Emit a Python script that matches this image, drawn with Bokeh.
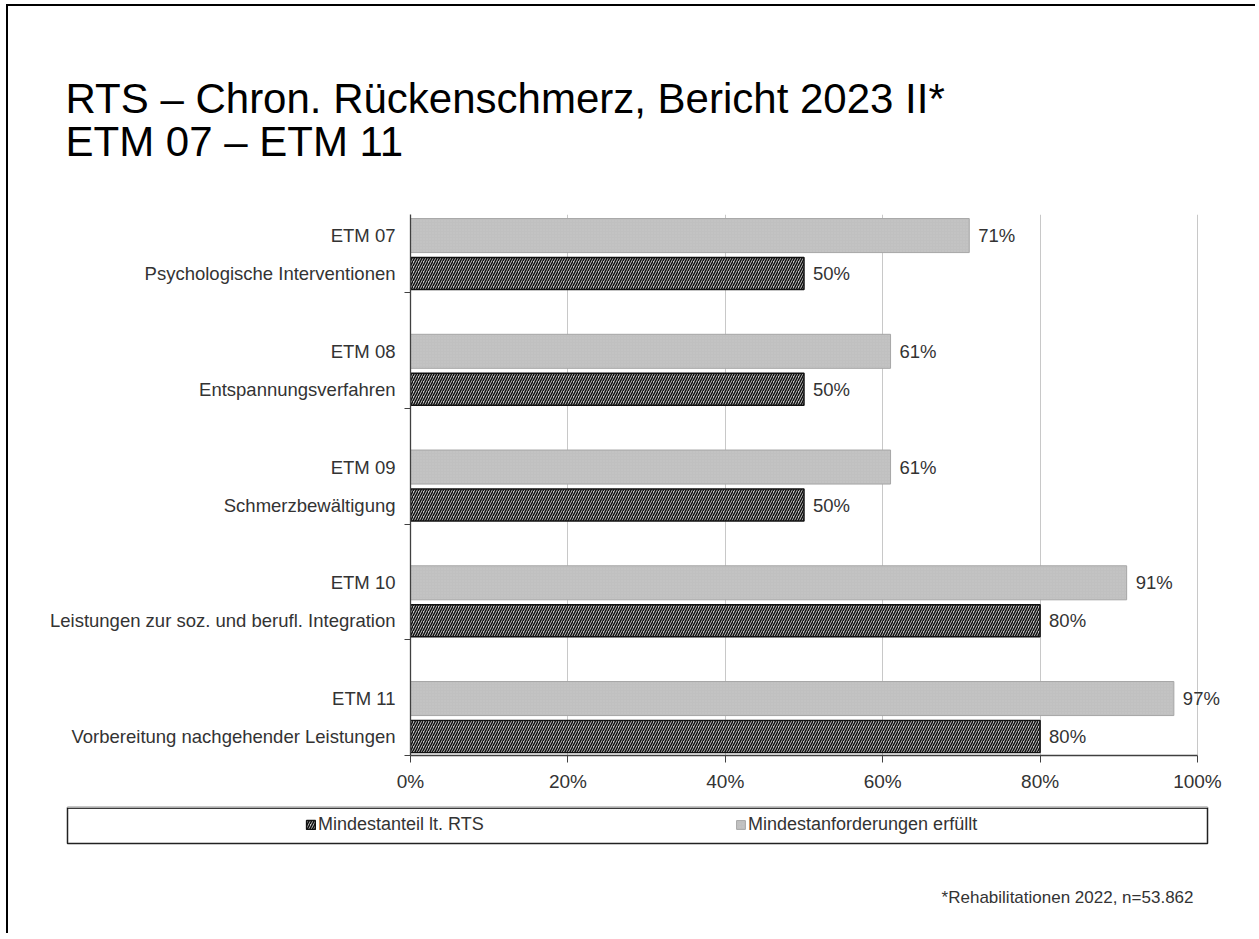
from bokeh.plotting import figure
from bokeh.layouts import column
from bokeh.models import (Range1d, FixedTicker, PrintfTickFormatter, Legend, LegendItem,
                          Title, Label, LabelSet, ColumnDataSource)
from bokeh.core.properties import value
from bokeh.embed import file_html
from bokeh.resources import INLINE

# ---------------- data ----------------
title_line1 = "RTS – Chron. Rückenschmerz, Bericht 2023 II*"
title_line2 = "ETM 07 – ETM 11"
etm_codes = ["ETM 07", "ETM 08", "ETM 09", "ETM 10", "ETM 11"]
etm_names = ["Psychologische Interventionen", "Entspannungsverfahren", "Schmerzbewältigung",
             "Leistungen zur soz. und berufl. Integration", "Vorbereitung nachgehender Leistungen"]
mindestanteil = [50, 50, 50, 80, 80]          # Mindestanteil lt. RTS (hatched)
erfuellt = [71, 61, 61, 91, 97]               # Mindestanforderungen erfüllt (grey)
x_ticks = [0, 20, 40, 60, 80, 100]
legend_labels = ["Mindestanteil lt. RTS", "Mindestanforderungen erfüllt"]
footnote = "*Rehabilitationen 2022, n=53.862"

FONT = "Liberation Sans"
TXT = "#333333"
W = 1247   # page content is offset by 8px left / 6px top (slide frame)

GREY_STYLE = dict(fill_color="#c0c0c0", line_color="#a6a6a6", line_width=1,
                  hatch_pattern="dot", hatch_color="#d4d4d4", hatch_scale=3, hatch_weight=1,
                  hatch_alpha=0.4)
HATCH_STYLE = dict(fill_color="#c8c8c8", line_color="#111111", line_width=1.5,
                   hatch_pattern="/", hatch_color="#111111", hatch_scale=5, hatch_weight=1.5)

n = len(etm_codes)
group = [n - 1 - i for i in range(n)]
y_grey = [round(g + 0.492, 3) for g in group]
y_hatch = [round(g + 0.164, 3) for g in group]

src_g = ColumnDataSource(dict(y=y_grey, right=erfuellt, label=[f"{v}%" for v in erfuellt]))
src_h = ColumnDataSource(dict(y=y_hatch, right=mindestanteil, label=[f"{v}%" for v in mindestanteil]))

# ---------------- main chart ----------------
p = figure(width=W, height=799, x_range=Range1d(0, 104.45), y_range=Range1d(0, 4.674),
           output_backend="svg", toolbar_location=None, frame_align=False,
           min_border_left=402, min_border_right=23, min_border_top=208, min_border_bottom=50,
           title=title_line1)
p.outline_line_color = None
p.background_fill_color = "white"
p.border_fill_color = "white"

# titles: p.title is outermost; spacer nearest to the frame, then line 2
p.title.text_font = FONT
p.title.text_font_size = "42px"
p.title.text_font_style = "normal"
p.title.text_color = "#000000"
p.title.align = "left"
p.title.offset = -345
p.title.standoff = -12
p.add_layout(Title(text="\u00a0", text_font=FONT, text_font_size="42px", standoff=1,
                   align="left", offset=-345), "above")
p.add_layout(Title(text=title_line2, text_font=FONT, text_font_size="42px", text_font_style="normal",
                   text_color="#000000", align="left", offset=-345, standoff=0), "above")

# grid
p.ygrid.visible = False
p.xgrid.grid_line_color = "#c8c8c8"
p.xgrid.grid_line_width = 1
p.xgrid.bounds = (0, 100)

# x axis
p.xaxis.ticker = FixedTicker(ticks=x_ticks)
p.xaxis.bounds = (0, 100)
p.xaxis.formatter = PrintfTickFormatter(format="%d%%")
p.xaxis.axis_line_color = "#404040"
p.xaxis.axis_line_width = 1.3
p.xaxis.major_tick_line_color = "#404040"
p.xaxis.major_tick_out = 7
p.xaxis.major_tick_in = 0
p.xaxis.minor_tick_line_color = None
p.xaxis.major_label_text_font = FONT
p.xaxis.major_label_text_font_size = "19px"
p.xaxis.major_label_text_color = TXT
p.xaxis.major_label_standoff = 8

# y axis
p.yaxis.ticker = FixedTicker(ticks=sorted(y_grey + y_hatch), minor_ticks=list(range(n)))
overrides = {}
for yg, yh, code, name in zip(y_grey, y_hatch, etm_codes, etm_names):
    overrides[yg] = code
    overrides[yh] = name
p.yaxis.major_label_overrides = overrides
p.yaxis.axis_line_color = "#404040"
p.yaxis.axis_line_width = 1.3
p.yaxis.major_tick_line_color = None
p.yaxis.major_tick_out = 0
p.yaxis.major_tick_in = 0
p.yaxis.minor_tick_line_color = "#404040"
p.yaxis.minor_tick_out = 6
p.yaxis.minor_tick_in = 0
p.yaxis.major_label_text_font = FONT
p.yaxis.major_label_text_font_size = "18.5px"
p.yaxis.major_label_text_color = TXT
p.yaxis.major_label_standoff = 9

# bars
r_g = p.hbar(y="y", left=0, right="right", height=0.294, source=src_g, **GREY_STYLE)
r_h = p.hbar(y="y", left=0, right="right", height=0.276, source=src_h, **HATCH_STYLE)

for src in (src_g, src_h):
    p.add_layout(LabelSet(x="right", y="y", text="label", source=src, x_offset=9,
                          text_baseline="middle", text_align="left",
                          text_font=value(FONT), text_font_size=value("18.5px"),
                          text_color=value(TXT)))

# ---------------- legend strip (its frame is the legend box) ----------------
# same series drawn again, but outside this strip's visible range: only the legend shows
lg = figure(width=W, height=40, x_range=Range1d(0, 1), y_range=Range1d(-100, -99),
            output_backend="svg", toolbar_location=None, frame_align=False,
            x_axis_location=None, y_axis_location=None,
            min_border_left=59, min_border_right=48, min_border_top=2, min_border_bottom=2)
lg.grid.visible = False
lg.outline_line_color = "#222222"
lg.outline_line_width = 1.5
lg.background_fill_color = "white"
lg.border_fill_color = "white"
d_h = lg.hbar(y="y", left=0, right="right", height=0.276, source=src_h, **HATCH_STYLE)
d_g = lg.hbar(y="y", left=0, right="right", height=0.294, source=src_g, **GREY_STYLE)
legend = Legend(items=[LegendItem(label=legend_labels[0], renderers=[d_h]),
                       LegendItem(label=legend_labels[1], renderers=[d_g])],
                orientation="horizontal", location=(238, 8),
                glyph_width=11, glyph_height=11, label_standoff=2, label_width=417, spacing=0,
                padding=0, margin=0,
                label_text_font=FONT, label_text_font_size="18px", label_text_color=TXT,
                border_line_color=None, background_fill_alpha=0)
lg.add_layout(legend)

# ---------------- footnote strip ----------------
fn = figure(width=W, height=88, x_range=Range1d(0, 1), y_range=Range1d(0, 1),
            output_backend="svg", toolbar_location=None, frame_align=False,
            x_axis_location=None, y_axis_location=None,
            min_border_left=0, min_border_right=0, min_border_top=0, min_border_bottom=0)
fn.grid.visible = False
fn.outline_line_color = None
fn.background_fill_color = "white"
fn.border_fill_color = "white"
fn.add_layout(Label(x=1185, y=36, x_units="screen", y_units="screen", text=footnote,
                    text_align="right", text_baseline="middle", text_font=FONT,
                    text_font_size="17px", text_color=TXT))

layout = column(p, lg, fn, spacing=0,
                styles={"margin-left": "6px", "margin-top": "4px",
                        "border-top": "2px solid #000000", "border-left": "2px solid #000000"})
open("out.html", "w").write(file_html(layout, INLINE))
